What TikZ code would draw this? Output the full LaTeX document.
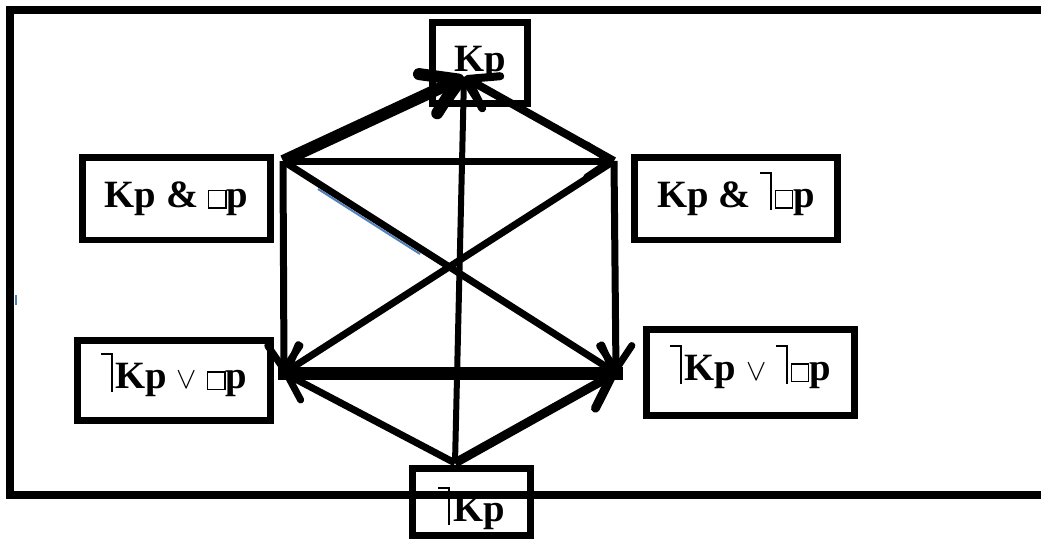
\documentclass[tikz,border=0pt]{standalone}
\usepackage{fontspec}
\setmainfont{Liberation Serif}
\usetikzlibrary{arrows.meta}

\definecolor{stray}{RGB}{79,129,189}

% negation hook, box operator and "or"
\newcommand{\tneg}{\rlap{\raisebox{19pt}[0pt][0pt]{\rule{6.6pt}{1.1pt}}}\kern5.5pt\raisebox{-1.7pt}[0pt][0pt]{\rule{1.1pt}{21.8pt}}\kern1.8pt}
\newcommand{\bsq}{{\fboxsep=0pt\fboxrule=0.8pt\fbox{\rule{0pt}{9pt}\rule{9pt}{0pt}}}}
\newcommand{\vor}{{\fontsize{16}{16}\selectfont$\vee$}}

\begin{document}
\begin{tikzpicture}[x=0.02cm,y=-0.02cm,
     box/.style={draw,line width=0.14cm,inner sep=0pt,
                 font=\fontsize{22}{26}\selectfont\bfseries},
     edge/.style={line width=0.14cm},
     arr/.style={-{Straight Barb[length=0pt 3.4 0,width=0pt 4.6 0,round]}}
     ]
   \useasboundingbox (0,0) rectangle (1041,542);

   % frame, open on the right
   \draw[line width=0.16cm] (1041,10) -- (10,10) -- (10,495) -- (1041,495);

   % the six formulas
   \node[box,minimum width=1.92cm,minimum height=1.64cm] (kp) at (480,63) {Kp};
   \node[box,minimum width=3.78cm,minimum height=1.66cm] (kpbp) at (176.5,198.5) {Kp \& \bsq p};
   \node[box,minimum width=4.08cm,minimum height=1.66cm] (kpnbp) at (736,198.5) {Kp \& \tneg\bsq p};
   \node[box,minimum width=3.88cm,minimum height=1.60cm] (nkpbp) at (174,380) {\tneg Kp \vor\ \bsq p};
   \node[box,minimum width=4.18cm,minimum height=1.72cm] (nkpnbp) at (750.5,372) {\tneg Kp \vor\ \tneg\bsq p};
   \node[box,minimum width=2.38cm,minimum height=1.34cm,
         text height=28pt,text depth=4.8pt] (nkp) at (471.5,501.5) {\tneg Kp};

   % corners of the hexagon
   \coordinate (vt) at (464,77);
   \coordinate (vul) at (283,161);
   \coordinate (vur) at (614,161);
   \coordinate (vll) at (284,373);
   \coordinate (vlr) at (616,373);
   \coordinate (vb) at (455,463);

   \draw[stray,line width=0.04cm] (318,189) -- (420,254);
   \draw[stray,line width=0.03cm] (16,295) -- (16,305);

   \draw[-{Straight Barb[length=0pt 2.8 0,width=0pt 3.6 0,round]},line width=0.24cm] (vul) -- (vt);
   \draw[arr,line width=0.16cm] (vur) -- (vt);
   \draw[arr,line width=0.12cm] (vb) -- (vt);
   \foreach \a/\b in {vul/vur,vul/vll,vur/vlr,vul/vlr,vur/vll,vb/vll}
     \draw[edge,arr] (\a) -- (\b);
   \draw[arr,line width=0.18cm] (vb) -- (vlr);
   \draw[line width=0.26cm,line cap=rect] (vll) -- (vlr);
\end{tikzpicture}
\end{document}
